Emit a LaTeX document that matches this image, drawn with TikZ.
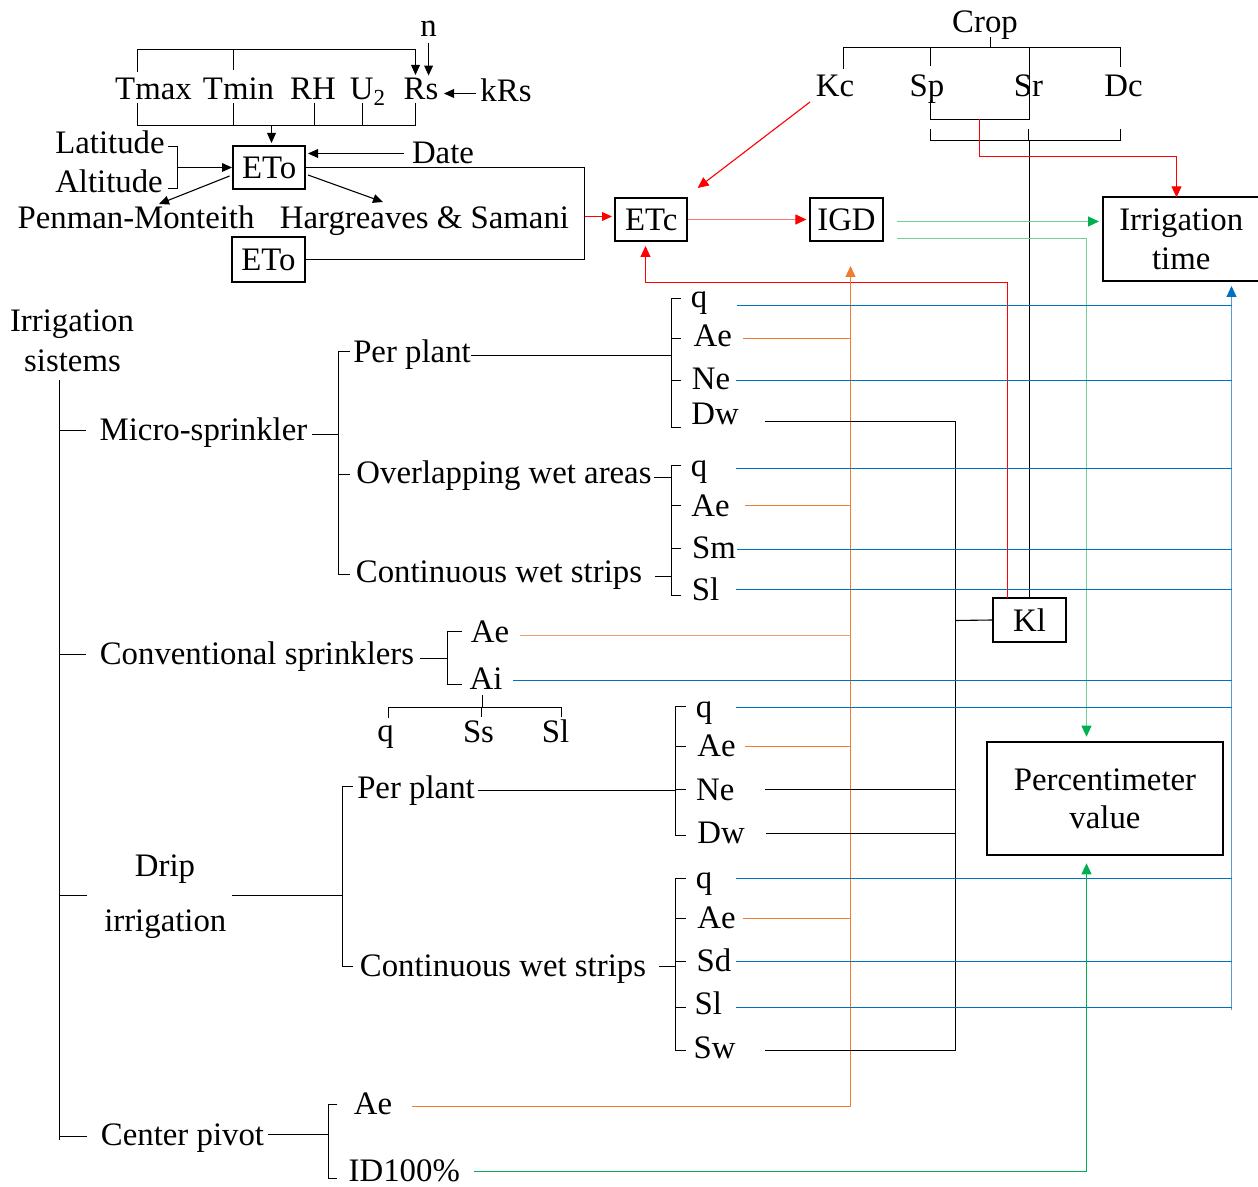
\documentclass[tikz,border=0pt]{standalone}
\usepackage{fontspec}
\setmainfont{Liberation Serif}
\usetikzlibrary{arrows.meta}
\definecolor{cred}{RGB}{255,0,0}
\definecolor{cpink}{RGB}{255,120,120}
\definecolor{cblue}{RGB}{0,112,192}
\definecolor{clblue}{RGB}{91,155,213}
\definecolor{corange}{RGB}{237,125,49}
\definecolor{clorange}{RGB}{240,160,110}
\definecolor{cgreen}{RGB}{0,176,80}
\definecolor{clgreen}{RGB}{110,210,150}
\newcommand\fs{\fontsize{16.4}{19.2}\selectfont}
\begin{document}
\begin{tikzpicture}[x=0.5pt,y=-0.5pt,line width=0.55pt,
  lbl/.style={inner sep=0pt,anchor=base,font=\fs},
  box/.style={draw,line width=1pt,inner sep=0pt,align=center,font=\fs},
  tip/.style={-{Triangle[length=5pt,width=4.4pt]}},
  rtip/.style={-{Triangle[length=5.5pt,width=5pt,color=cred]}},
  gtip/.style={-{Triangle[length=5.5pt,width=5pt,color=cgreen]}},
  btip/.style={-{Triangle[length=5.5pt,width=5pt,color=cblue]}},
  otip/.style={-{Triangle[length=5.5pt,width=5pt,color=corange]}},
  ]
\useasboundingbox (0,0) rectangle (1258,1187);

% ---------- nodes: top left ----------
\node[lbl] (n) at (428.6,37) {n};
\node[lbl] (tmax) at (153.5,100) {Tmax};
\node[lbl] (tmin) at (238.5,100) {Tmin};
\node[lbl] (rh) at (313,100) {RH};
\node[lbl] (u2) at (368,100) {U\textsubscript{2}};
\node[lbl] (rs) at (421,100) {Rs};
\node[lbl] (krs) at (506,102) {kRs};
\node[lbl] (lat) at (110,154) {Latitude};
\node[lbl] (alt) at (109,193) {Altitude};
\node[lbl] (date) at (443,164) {Date};
\node[lbl] (pm) at (136,229) {Penman-Monteith};
\node[lbl] (hs) at (424.5,229) {Hargreaves \& Samani};
\node[box,minimum width=36.2pt,minimum height=21.5pt] (eto1) at (269.2,167.5) {ETo};
\node[box,minimum width=36.5pt,minimum height=22.5pt] (eto2) at (268.5,259.5) {ETo};

% ---------- nodes: top right ----------
\node[lbl] (crop) at (985,33) {Crop};
\node[lbl] (kc) at (835,97) {Kc};
\node[lbl] (sp) at (927,97) {Sp};
\node[lbl] (sr) at (1028.5,97) {Sr};
\node[lbl] (dc) at (1123.5,97) {Dc};
\node[box,minimum width=35.75pt,minimum height=21.5pt] (etc) at (651.2,219.5) {ETc};
\node[box,minimum width=36.1pt,minimum height=21.5pt] (igd) at (846.5,219.5) {IGD};
\node[box,minimum width=78pt,minimum height=42pt] (it) at (1181.2,239.4) {Irrigation\\time};
\node[box,minimum width=36.5pt,minimum height=22pt] (kl) at (1029.5,620) {Kl};
\node[box,minimum width=118pt,minimum height=56.5pt] (pc) at (1105,798.5) {Percentimeter\\value};

% ---------- nodes: tree ----------
\node[lbl] (irr) at (72,332) {Irrigation};
\node[lbl] (sis) at (72.5,372) {sistems};
\node[lbl] (micro) at (203.5,441) {Micro-sprinkler};
\node[lbl] (pp1) at (412,363) {Per plant};
\node[lbl] (owa) at (504,483) {Overlapping wet areas};
\node[lbl] (cws1) at (499,582) {Continuous wet strips};
\node[lbl] (q1) at (699,308) {q};
\node[lbl] (ae1) at (712.7,347) {Ae};
\node[lbl] (ne1) at (711,390) {Ne};
\node[lbl] (dw1) at (715,425) {Dw};
\node[lbl] (q2) at (699,476) {q};
\node[lbl] (ae2) at (710.5,516.7) {Ae};
\node[lbl] (sm) at (714,558) {Sm};
\node[lbl] (sl1) at (705.5,600.7) {Sl};
\node[lbl] (conv) at (257,664) {Conventional sprinklers};
\node[lbl] (aec) at (490,642) {Ae};
\node[lbl] (aic) at (486,689) {Ai};
\node[lbl] (qs) at (385.5,741.3) {q};
\node[lbl] (ss) at (478.5,742.7) {Ss};
\node[lbl] (sls) at (555.5,742.7) {Sl};
\node[lbl] (drip) at (165,876.7) {Drip};
\node[lbl] (irrig) at (165.3,931.7) {irrigation};
\node[lbl] (pp2) at (416,798.3) {Per plant};
\node[lbl] (cws2) at (503,976) {Continuous wet strips};
\node[lbl] (q3) at (704,717) {q};
\node[lbl] (ae3) at (716.5,756) {Ae};
\node[lbl] (ne3) at (715.3,800) {Ne};
\node[lbl] (dw3) at (721,843.3) {Dw};
\node[lbl] (q4) at (704,888) {q};
\node[lbl] (ae4) at (716.5,928.3) {Ae};
\node[lbl] (sd) at (714,971.7) {Sd};
\node[lbl] (sl4) at (708.3,1014.3) {Sl};
\node[lbl] (sw) at (714.5,1058.3) {Sw};
\node[lbl] (cp) at (182.5,1145) {Center pivot};
\node[lbl] (ae5) at (373,1114.3) {Ae};
\node[lbl] (id) at (404.3,1181.7) {ID100\%};

% bus coordinates
\coordinate (obus) at (850.5,266);
\coordinate (bbus) at (1231.5,286);
\coordinate (kbus) at (955.5,421.5);

% ---------- connectors: top left ----------
\draw (137.5,72) -- (137.5,49.5) -- (415.5,49.5);
\draw (233.5,49.5) -- (233.5,70);
\draw[tip] (415.5,49.5) -- (415.5,75);
\draw[tip] ([yshift=-2.5pt]n.south) -- ++(0,33);
\draw[tip] (476,93.5) -- (444,93.5);
\draw (137.5,103) -- (137.5,125.5) -- (415.5,125.5) -- (415.5,103);
\draw (233.5,103) -- (233.5,125.5);
\draw (314.5,103) -- (314.5,125.5);
\draw (362.5,103) -- (362.5,125.5);
\draw[tip] (271.5,125.5) -- (271.5,143);
\draw (168,146.5) -- (177.5,146.5) -- (177.5,188.5) -- (168,188.5);
\draw[tip] (177.5,167.5) -- (eto1.west);
\draw[tip] (404,153.5) -- (308,153.5);
\draw[tip] (229.6,176) -- (159,204);
\draw[tip] (308,175) -- (383,202);
\draw (eto1.east) -- (584.5,167.5) |- (eto2.east);
\draw[cred,tip] (584.5,216.5) -- (612,216.5);

% ---------- connectors: top right ----------
\draw (990.5,37) -- (990.5,47.5);
\draw (843.5,69) -- (843.5,47.5) -- (1120.5,47.5) -- (1120.5,67);
\draw (930.5,47.5) -- (930.5,66);
\draw (1029.5,47.5) -- (1029.5,119.5);
\draw (930.5,100) -- (930.5,119.5) -- (1029.5,119.5);
\draw (930.5,129) -- (930.5,140.5) -- (1120.5,140.5) -- (1120.5,129);
\draw (1028.5,129) -- (1028.5,140.5);
\draw (1029.5,140.5) -- (kl.north);
\draw[cred,rtip] (979.5,119.5) -- (979.5,156.5) -- (1176.5,156.5) -- (1176.5,197.3);
\draw[cred,rtip] (810,102) -- (697.6,188);
\draw[cpink,rtip] (etc.east) -- ([xshift=-1.5pt]igd.west);
\draw[clgreen,gtip] (897,221.5) -- (1099,221.5);
\draw[clgreen,gtip] (897,238.5) -- (1086.5,238.5) -- (1086.5,736.7);
\draw[cred,rtip] (1007.5,598) -- (1007.5,282.5) -- (645.5,282.5) -- (645.5,246);
\draw[corange,otip] (850.5,1106.5) -- (obus);
\draw[clblue,btip] (1231.5,1010) -- (bbus);
\draw (kbus) -- (955.5,1050.5);
\draw (955.5,620.5) -- (kl.west);

% ---------- tree ----------
\draw (59.5,380) -- (59.5,1140);
\draw (59.5,430.5) -- (86,430.5);
\draw (59.5,654.5) -- (86,654.5);
\draw (59.5,895.5) -- (86.7,895.5);
\draw (59.5,1136.5) -- (86.7,1136.5);
% micro-sprinkler
\draw (312,434.5) -- (338.5,434.5);
\draw (350,351.5) -- (338.5,351.5) -- (338.5,574.5) -- (350,574.5);
\draw (338.5,474.5) -- (350,474.5);
\draw (471,355.5) -- (671.5,355.5);
\draw (681,298.5) -- (671.5,298.5) -- (671.5,427.5) -- (681,427.5);
\draw (671.5,338.5) -- (681,338.5);
\draw (671.5,380.5) -- (681,380.5);
\draw (654,477.5) -- (671.5,477.5);
\draw (681,465.5) -- (671.5,465.5) -- (671.5,595.5) -- (681,595.5);
\draw (671.5,505.5) -- (681,505.5);
\draw (671.5,548.5) -- (681,548.5);
\draw (655,576.5) -- (671.5,576.5);
% conventional
\draw (420,658.5) -- (447.5,658.5);
\draw (462,631.5) -- (447.5,631.5) -- (447.5,684.5) -- (462,684.5);
\draw (482.5,695) -- (482.5,707.5);
\draw (388.5,717.7) -- (388.5,707.5) -- (561.5,707.5) -- (561.5,717);
\draw (481.5,707.5) -- (481.5,716.7);
% drip
\draw (231.7,895.5) -- (342.5,895.5);
\draw (352.7,786.5) -- (342.5,786.5) -- (342.5,966.5) -- (352.7,966.5);
\draw (477.7,790.5) -- (675.5,790.5);
\draw (685.7,706.5) -- (675.5,706.5) -- (675.5,835.5) -- (685.7,835.5);
\draw (675.5,746.5) -- (685.7,746.5);
\draw (675.5,789.5) -- (685.7,789.5);
\draw (659.3,966.5) -- (675.5,966.5);
\draw (685.7,878.5) -- (675.5,878.5) -- (675.5,1050.5) -- (685.7,1050.5);
\draw (675.5,918.5) -- (685.7,918.5);
\draw (675.5,961.5) -- (685.7,961.5);
\draw (675.5,1007.5) -- (685.7,1007.5);
% center pivot
\draw (268,1134.5) -- (328.5,1134.5);
\draw (337.3,1104.5) -- (328.5,1104.5) -- (328.5,1178.5) -- (337.3,1178.5);

% ---------- blue lines to bus ----------
\begin{scope}[cblue]
\draw (736.5,305.5) -- (1231.5,305.5);
\draw (736,380.5) -- (1231.5,380.5);
\draw (736,468.5) -- (1231.5,468.5);
\draw (736.6,549.5) -- (1231.5,549.5);
\draw (736,589.5) -- (1231.5,589.5);
\draw (513,680.5) -- (1231.5,680.5);
\draw (736,707.5) -- (1231.5,707.5);
\draw (736,878.5) -- (1231.5,878.5);
\draw (736,961.5) -- (1231.5,961.5);
\draw (736,1007.5) -- (1231.5,1007.5);
\end{scope}
% ---------- orange lines to bus ----------
\begin{scope}[corange]
\draw (743,338.5) -- (850.5,338.5);
\draw (745,505.5) -- (850.5,505.5);
\draw[clorange] (520,635.5) -- (850.5,635.5);
\draw (745,746.5) -- (850.5,746.5);
\draw (743.3,918.5) -- (850.5,918.5);
\draw (412.3,1106.5) -- (850.5,1106.5);
\end{scope}
% ---------- black lines to bus ----------
\draw (764.6,421.5) -- (kbus);
\draw (765,789.5) -- (955.5,789.5);
\draw (766,833.5) -- (955.5,833.5);
\draw (765,1050.5) -- (955.5,1050.5);
% ---------- green ID100% ----------
\draw[cgreen,gtip] (474.3,1171.5) -- (1086.5,1171.5) -- (1086.5,863.3);
\end{tikzpicture}
\end{document}
